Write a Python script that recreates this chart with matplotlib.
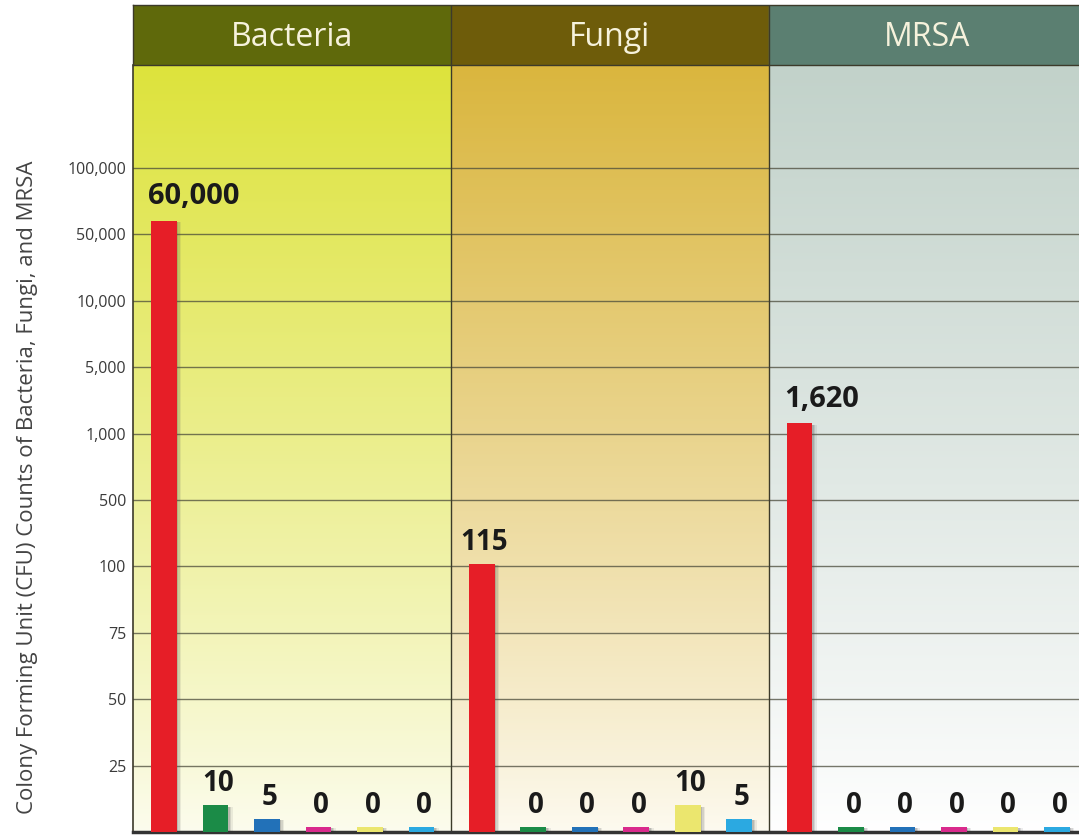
import numpy as np
import matplotlib.pyplot as plt
from matplotlib.colors import to_rgb

plt.rcParams['font.family'] = ['Open Sans', 'DejaVu Sans']

groups = ["Bacteria", "Fungi", "MRSA"]
bacteria = [60000, 10, 5, 0, 0, 0]
fungi = [115, 0, 0, 0, 10, 5]
mrsa = [1620, 0, 0, 0, 0, 0]
series = [bacteria, fungi, mrsa]

# the y axis is not linear: equally spaced ticks with these values
tick_values = [0, 25, 50, 75, 100, 500, 1000, 5000, 10000, 50000, 100000]
tick_labels = ["", "25", "50", "75", "100", "500", "1,000", "5,000", "10,000", "50,000", "100,000"]

bar_colors = ["#e61e27", "#1b8b47", "#2271b8", "#d92a8c", "#ebe66e", "#2ba9e1"]
header_colors = ["#5f690b", "#6e5c0a", "#5b7f71"]
grad_top = ["#dde33c", "#dab63e", "#c2d2ca"]
grad_bottom = ["#fcfcee", "#fdfaf0", "#ffffff"]

panel_w = 6.17
ymax = 11.55


def to_pos(v):
    return np.interp(v, tick_values, np.arange(len(tick_values)))


fig = plt.figure(figsize=(10.79, 8.36), dpi=100)
ax = fig.add_axes([133 / 1079, 4 / 836, 946 / 1079, 767 / 836])
hx = fig.add_axes([133 / 1079, 771 / 836, 946 / 1079, 60 / 836])

xmax = 946 / 51.5
ax.set_xlim(0, xmax)
ax.set_ylim(0, ymax)

# gradient backgrounds
for i in range(3):
    t = np.linspace(0, 1, 256)[:, None] ** 0.9
    top = np.array(to_rgb(grad_top[i]))
    bot = np.array(to_rgb(grad_bottom[i]))
    img = bot + (top - bot) * t
    img = img[:, None, :].repeat(2, axis=1)
    ax.imshow(img, origin='lower', aspect='auto',
              extent=[i * panel_w, (i + 1) * panel_w, 0, ymax], zorder=0)

# grid lines
for k in range(1, len(tick_values)):
    ax.axhline(k, color="#4a4a3a", lw=1.0, alpha=0.75, zorder=1)
for i in range(1, 3):
    ax.axvline(i * panel_w, color="#3c3a2a", lw=1.0, zorder=1)

bar_w = 0.5
for i, vals in enumerate(series):
    x = i * panel_w + 0.6 + np.arange(len(vals))
    h = np.maximum(to_pos(vals), 0.08)
    # soft shadow on the right
    for off, a in [(0.09, 0.10), (0.06, 0.15), (0.03, 0.2)]:
        ax.bar(x + off, h - 0.02, width=bar_w, color="#555555", alpha=a,
               zorder=2, linewidth=0)
    ax.bar(x, h, width=bar_w, color=bar_colors, zorder=3, linewidth=0)
    for xi, hi, v in zip(x, h, vals):
        txt = f"{v:,}"
        if len(txt) > 3:
            ax.annotate(txt, (xi - bar_w / 2 - 0.05, hi), xytext=(0, 7),
                        textcoords='offset points', ha='left', va='bottom',
                        fontsize=21, fontweight='bold', color="#1a1a1a")
        else:
            ax.annotate(txt, (xi + 0.05, hi), xytext=(0, 5),
                        textcoords='offset points', ha='center', va='bottom',
                        fontsize=20, fontweight='bold', color="#1a1a1a")

ax.set_yticks(range(len(tick_values)))
ax.set_yticklabels(tick_labels, fontsize=11.5, color="#3a3a3a")
ax.tick_params(axis='y', length=0, pad=5)
ax.set_xticks([])
for s in ["top", "right"]:
    ax.spines[s].set_visible(False)
ax.spines["left"].set_color("#3c3a2a")
ax.spines["left"].set_linewidth(1.2)
ax.spines["bottom"].set_color("#333333")
ax.spines["bottom"].set_linewidth(2.5)
ax.set_ylabel("Colony Forming Unit (CFU) Counts of Bacteria, Fungi, and MRSA",
              fontsize=16, color="#444444")
ax.yaxis.set_label_coords(-0.10, 0.45)

# header strip
hx.set_xlim(0, xmax)
hx.set_ylim(0, 1)
for i, g in enumerate(groups):
    hx.axvspan(i * panel_w, (i + 1) * panel_w, color=header_colors[i])
    hx.text(i * panel_w + panel_w / 2, 0.45, g, ha='center', va='center',
            fontsize=23, color="#f6f2dc")
for i in range(1, 3):
    hx.axvline(i * panel_w, color="#3c3a2a", lw=1.0)
hx.set_xticks([])
hx.set_yticks([])
for s in hx.spines.values():
    s.set_color("#3c3a2a")
    s.set_linewidth(1.0)
hx.spines["right"].set_visible(False)

fig.savefig("out.png", dpi=100)
